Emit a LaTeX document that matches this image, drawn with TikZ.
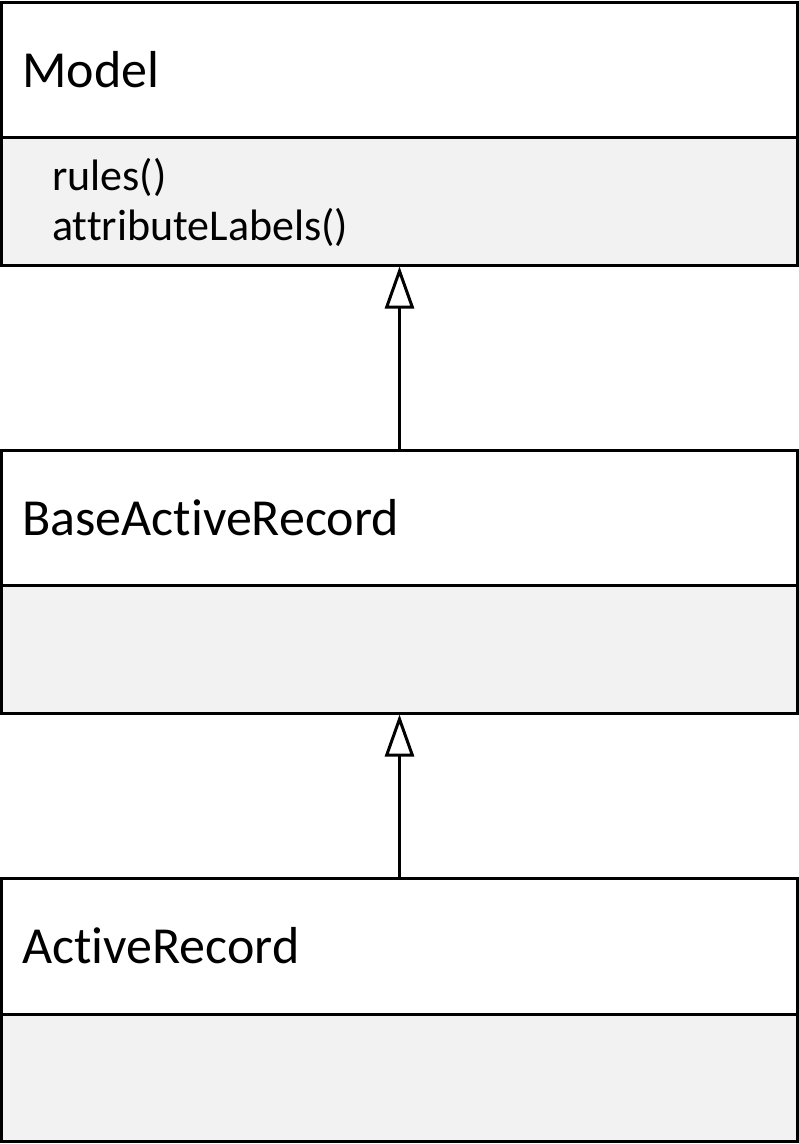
\documentclass[tikz,border=0pt]{standalone}
\usepackage{fontspec}
\setmainfont[Ligatures=CommonOff]{Carlito}
\usetikzlibrary{arrows.meta}
\definecolor{bodygray}{HTML}{F2F2F2}
\begin{document}
\begin{tikzpicture}[x=1pt,y=-1pt,
  hdr/.style={draw=black, line width=3pt, fill=white, minimum width=796pt, inner sep=0pt},
  bdy/.style={draw=black, line width=3pt, fill=bodygray, minimum width=796pt, inner sep=0pt},
  cname/.style={anchor=base west, inner sep=0pt, font=\fontsize{52}{62}\selectfont},
  member/.style={anchor=base west, inner sep=0pt, font=\fontsize{44}{52}\selectfont},
  inherit/.style={line width=3pt, -{Triangle[open, length=42pt, width=29pt, fill=white]}}
]
\useasboundingbox (0,0) rectangle (799,1144);
% Model
\node[hdr, minimum height=135pt] (mh) at (399.5,69.5) {};
\node[bdy, minimum height=128pt] (mb) at (399.5,201) {};
\node[cname] (mt) at (22,87) {Model};
\node[member] (m1) at (52,190) {rules()};
\node[member] (m2) at (52,240) {attributeLabels()};
% BaseActiveRecord
\node[hdr, minimum height=135pt] (bh) at (399.5,517.5) {};
\node[bdy, minimum height=128pt] (bb) at (399.5,649) {};
\node[cname] (bt) at (22,535) {BaseActiveRecord};
% ActiveRecord
\node[hdr, minimum height=136pt] (ah) at (399.5,946) {};
\node[bdy, minimum height=127pt] (ab) at (399.5,1077.5) {};
\node[cname] (at) at (22,963) {ActiveRecord};
% inheritance
\draw[inherit] (bh.north) -- (mb.south);
\draw[inherit] (ah.north) -- (bb.south);
\end{tikzpicture}
\end{document}
